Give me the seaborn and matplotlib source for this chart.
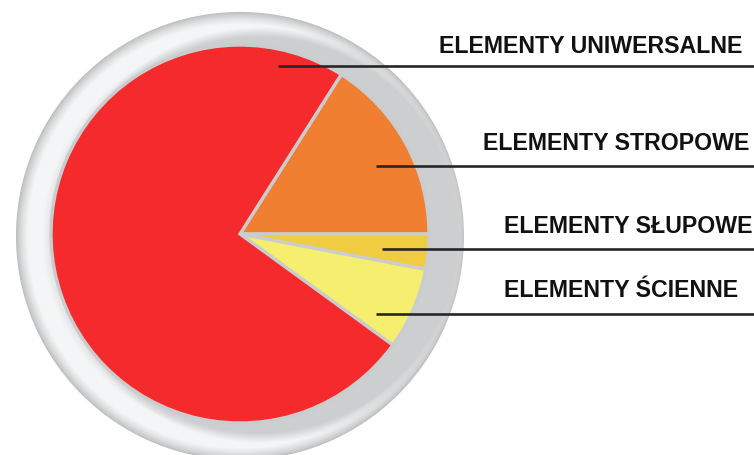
import numpy as np
import matplotlib
matplotlib.use("Agg")
import matplotlib.pyplot as plt
import seaborn as sns

# dane wykresu
kategorie = ["ELEMENTY STROPOWE", "ELEMENTY SŁUPOWE", "ELEMENTY ŚCIENNE", "ELEMENTY UNIWERSALNE"]
udzialy = [16, 3, 7, 74]
kolory = ["#f07f32", "#f0cd40", "#f5ee6e", "#f52a2c"]

# etykiety po prawej (kolejnosc od gory)
etykiety = ["ELEMENTY UNIWERSALNE", "ELEMENTY STROPOWE", "ELEMENTY SŁUPOWE", "ELEMENTY ŚCIENNE"]

sns.set_theme(style="white")
plt.rcParams["font.family"] = ["Liberation Sans", "DejaVu Sans"]

W, H = 754, 456
fig = plt.figure(figsize=(W / 100, H / 100), dpi=100)
ax = fig.add_axes([0, 0, 1, 1])

# tlo tarczy - obrecz z cieniowaniem
xx, yy = np.meshgrid(np.arange(W) + 0.5, np.arange(H) + 0.5)
cx, cy, R = 240, 219, 224
d1 = np.hypot(xx - cx, yy - cy)
t = R - d1
rim = 0.72 + 0.24 * np.clip(t / 12, 0, 1) ** 0.7
rim = rim - 0.07 * np.clip((t - 26) / 9, 0, 1)
gx, gy, gr = 260, 220, 203
d2 = np.hypot(xx - gx, yy - gy)
a = np.clip((gr - d2) / 10 + 0.5, 0, 1)
val = rim * (1 - a) + 0.806 * a
img = np.ones((H, W, 4))
img[..., 0] = val
img[..., 1] = val + 0.003
img[..., 2] = val + 0.006
img[..., 3] = np.clip(t + 0.5, 0, 1)
img = np.clip(img, 0, 1)
ax.imshow(img, extent=[0, W, 0, H], origin="lower", interpolation="bilinear", zorder=0)

ax.pie(udzialy, colors=kolory, startangle=57.6, counterclock=False,
       center=(240, 221), radius=189,
       wedgeprops=dict(edgecolor="#cbcccd", linewidth=2.4))

# linie odniesienia i opisy
linie_x = [278, 376, 382, 376]
linie_y = [389, 289, 206, 141]
tekst_x = [439, 483, 504, 504]
tekst_y = [403, 306, 223, 159]
for nazwa, lx, ly, tx, ty in zip(etykiety, linie_x, linie_y, tekst_x, tekst_y):
    ax.plot([lx, W], [ly, ly], color="#262626", lw=1.9, solid_capstyle="butt", zorder=5)
    ax.text(tx, ty, nazwa, fontsize=16.7, fontweight="bold", color="#111111",
            ha="left", va="baseline", zorder=6)

ax.set_xlim(0, W)
ax.set_ylim(0, H)
ax.set_aspect("auto")
ax.axis("off")

fig.savefig("out.png", dpi=100)
